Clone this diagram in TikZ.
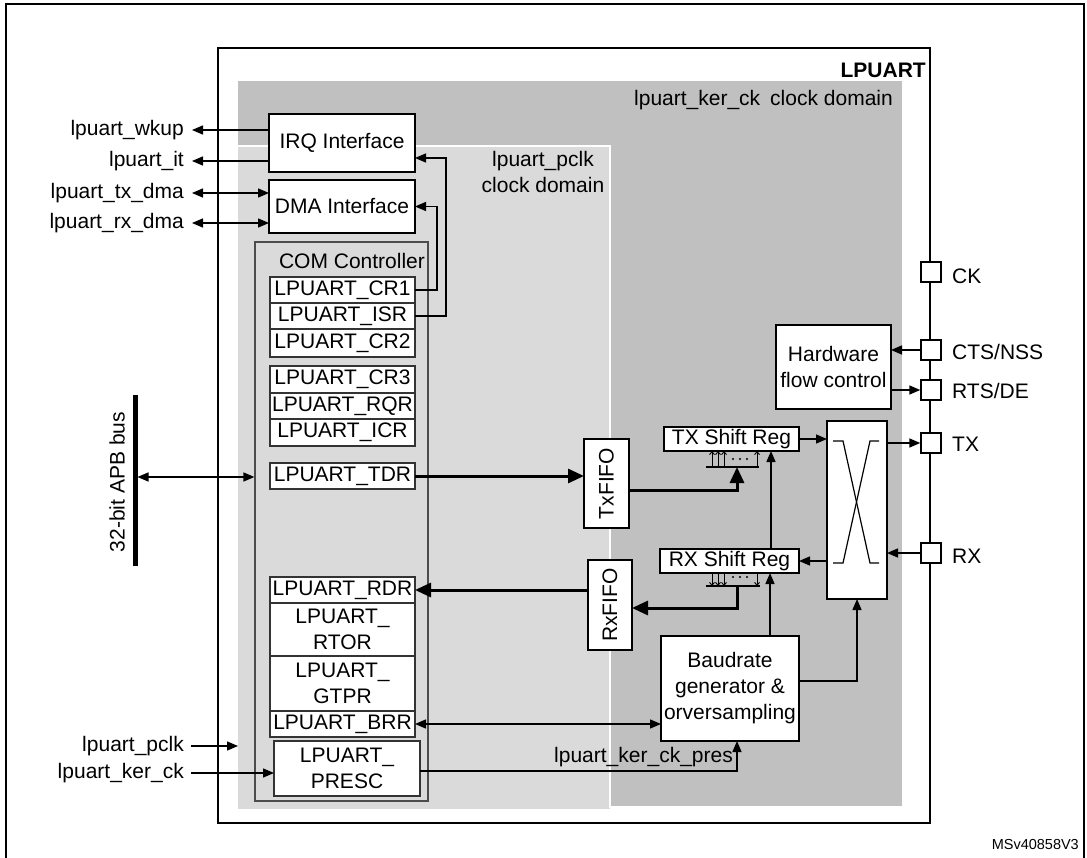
\documentclass[tikz,border=0pt]{standalone}
\usepackage{fontspec}
\setmainfont{Liberation Sans}
\usetikzlibrary{arrows.meta}
\definecolor{kerdom}{RGB}{192,192,192}
\definecolor{pclkdom}{RGB}{218,218,218}
\tikzset{
 blk/.style={draw=black, fill=white, line width=1.4pt, inner sep=0pt, outer sep=0pt, align=center},
 reg/.style={draw=black!80, fill=white, line width=1.1pt, inner sep=0pt, outer sep=0pt, minimum width=145pt, align=center},
 arr/.style={line width=1.4pt, -{Triangle[length=11pt,width=9pt]}},
 darr/.style={line width=1.4pt, {Triangle[length=11pt,width=9pt]}-{Triangle[length=11pt,width=9pt]}},
 tharr/.style={line width=3pt, -{Triangle[length=16pt,width=14pt]}},
 smarr/.style={line width=0.9pt, -{Straight Barb[length=3pt,width=5pt]}},
 pinbox/.style={draw, fill=white, line width=1.4pt, minimum size=20pt, inner sep=0pt},
 txt/.style={inner sep=0pt},
}
\begin{document}
\begin{tikzpicture}[x=1pt,y=-1pt,font=\fontsize{21}{26}\selectfont]
\useasboundingbox (0,0) rectangle (1087,858);
% outer frame
\draw[line width=1.5pt] (6,858) -- (6,4) -- (1084,4) -- (1084,858);
% LPUART block
\draw[line width=2pt, fill=white] (218,48) rectangle (930,823);
\node[txt, anchor=east, font=\fontsize{21}{26}\selectfont\bfseries] (lpuart) at (926,70) {LPUART};
% clock domains
\fill[kerdom] (238,81) rectangle (902,806);
\draw[pclkdom, fill=pclkdom] (238,147) rectangle (609,808);
\draw[white, line width=2pt] (238,146) -- (610,146) -- (610,808);
\node[txt, anchor=east] (kerlbl) at (893,100) {lpuart\_ker\_ck\hspace{10pt}clock domain};
\node[txt, align=center] (pclklbl) at (543,171.5) {lpuart\_pclk\\clock domain};

% interfaces
\node[blk, minimum width=146pt, minimum height=58pt] (irq) at (342,143) {IRQ Interface};
\node[blk, minimum width=146pt, minimum height=53pt] (dma) at (342,206.5) {DMA Interface};

% COM controller
\node[draw=black!70, fill=pclkdom, line width=1.2pt, minimum width=173pt, minimum height=559pt, inner sep=0pt] (com) at (341.5,521.5) {};
\node[txt] (comlbl) at (352,261) {COM Controller};
\node[reg, minimum height=26pt] (cr1) at (342.5,290) {LPUART\_CR1};
\node[reg, minimum height=26pt] (isr) at (342.5,316) {LPUART\_ISR};
\node[reg, minimum height=28pt] (cr2) at (342.5,343) {LPUART\_CR2};
\node[reg, minimum height=27pt] (cr3) at (342.5,379.5) {LPUART\_CR3};
\node[reg, minimum height=26pt] (rqr) at (342.5,406) {LPUART\_RQR};
\node[reg, minimum height=27pt] (icr) at (342.5,432.5) {LPUART\_ICR};
\node[reg, minimum height=26pt] (tdr) at (342.5,476) {LPUART\_TDR};
\node[reg, minimum height=26pt] (rdr) at (342.5,590) {LPUART\_RDR};
\node[reg, minimum height=53pt] (rtor) at (342.5,629.5) {LPUART\_\\RTOR};
\node[reg, minimum height=55pt] (gtpr) at (342.5,683.5) {LPUART\_\\GTPR};
\node[reg, minimum height=26pt] (brr) at (342.5,724) {LPUART\_BRR};
\node[reg, minimum width=146pt, minimum height=55pt] (presc) at (347,768.5) {LPUART\_\\PRESC};

% CR1/ISR to interfaces
\draw[arr] (cr1.east) -- ++(22,0) |- (dma.east);
\draw[arr] (isr.east) -- ++(31,0) |- ([yshift=-15pt]irq.east);

% left signals
\node[txt, anchor=east] (wkup) at (184,130) {lpuart\_wkup};
\node[txt, anchor=east] (it) at (184,161) {lpuart\_it};
\node[txt, anchor=east] (txdma) at (184,193) {lpuart\_tx\_dma};
\node[txt, anchor=east] (rxdma) at (184,223) {lpuart\_rx\_dma};
\draw[arr] (irq.west |- wkup.east) -- ([xshift=8pt]wkup.east);
\draw[arr] (irq.west |- it.east) -- ([xshift=8pt]it.east);
\draw[darr] ([xshift=8pt]txdma.east) -- (dma.west |- txdma.east);
\draw[darr] ([xshift=8pt]rxdma.east) -- (dma.west |- rxdma.east);

% APB bus
\coordinate (busT) at (135,395);
\coordinate (busB) at (135,566);
\coordinate (busP) at (137.5,477);
\draw[line width=5pt] (busT) -- (busB);
\node[txt, rotate=90] (apb) at (117,482) {32-bit APB bus};
\draw[darr] (busP) -- (com.west |- busP);

% clocks bottom left
\node[txt, anchor=east] (pclk) at (184,746) {lpuart\_pclk};
\node[txt, anchor=east] (kerck) at (184,773) {lpuart\_ker\_ck};
\coordinate (pclkE) at (238,746);
\draw[arr] ([xshift=7pt]pclk.east) -- (pclkE);
\draw[arr] ([xshift=7pt]kerck.east) -- (presc.west |- kerck.east);

% FIFOs
\node[blk, minimum width=45pt, minimum height=89pt] (txf) at (606.5,483.5) {};
\node[txt, rotate=90] at (txf) {TxFIFO};
\node[blk, minimum width=44pt, minimum height=90pt] (rxf) at (610,605) {};
\node[txt, rotate=90] at (rxf) {RxFIFO};
\draw[tharr] (tdr.east) -- (txf.west |- tdr.east);
\draw[tharr] (rxf.west |- rdr.east) -- (rdr.east);

% shift registers
\node[blk, minimum width=135pt, minimum height=24pt] (txsr) at (731.5,439) {TX Shift Reg};
\node[blk, minimum width=139pt, minimum height=24pt] (rxsr) at (729.5,561) {RX Shift Reg};

% TX parallel bus
\coordinate (txbarL) at (706,467);
\coordinate (txbarR) at (759,467);
\coordinate (txbarM) at (737,467);
\draw[line width=2.2pt] (txbarL) -- (txbarR);
\foreach \x in {712,718,724,757} \draw[smarr] (\x,467) -- (txsr.south -| \x,0);
\foreach \x in {733,740,747} \fill (\x,459) circle (1.1);
\draw[tharr] (txf.east |- 0,490) -| (txbarM);

% RX parallel bus
\coordinate (rxbarL) at (706,586);
\coordinate (rxbarR) at (760,586);
\coordinate (rxbarM) at (737,586);
\draw[line width=2.2pt] (rxbarL) -- (rxbarR);
\foreach \x in {712,718,724,757} \draw[smarr] (rxsr.south -| \x,0) -- (\x,586);
\foreach \x in {733,740,747} \fill (\x,577) circle (1.1);
\draw[tharr] (rxbarM) |- (rxf.east |- 0,608);

% crossbar
\node[blk, minimum width=60pt, minimum height=178pt] (xbar) at (857,510) {};
\draw[line width=1.2pt] (833,441) -- (843,441) -- (870,563) -- (879,563);
\draw[line width=1.2pt] (879,441) -- (870,441) -- (843,563) -- (833,563);

% baudrate
\node[blk, minimum width=138pt, minimum height=105pt] (baud) at (730,688.5) {Baudrate\\generator \&\\orversampling};

% hardware flow control
\node[blk, minimum width=115pt, minimum height=84pt] (hw) at (833.5,367) {Hardware\\flow control};

% pins
\node[pinbox] (ckp) at (931,272) {};
\node[pinbox] (cts) at (931,350) {};
\node[pinbox] (rts) at (931,390) {};
\node[pinbox] (txp) at (931,443) {};
\node[pinbox] (rxp) at (931,553) {};
\node[txt, anchor=west] at (952,276) {CK};
\node[txt, anchor=west] at (952,352) {CTS/NSS};
\node[txt, anchor=west] at (952,391) {RTS/DE};
\node[txt, anchor=west] at (952,444) {TX};
\node[txt, anchor=west] at (952,556) {RX};

% connections right side
\draw[arr] (cts.west) -- (hw.east |- cts.west);
\draw[arr] (hw.east |- rts.west) -- (rts.west);
\draw[arr] (txsr.east) -- (xbar.west |- txsr.east);
\draw[arr] (xbar.east |- txp.west) -- (txp.west);
\draw[arr] (rxp.west) -- (xbar.east |- rxp.west);
\draw[arr] (xbar.west |- rxsr.east) -- (rxsr.east);
\draw[arr] (rxsr.north -| 771,0) -- (txsr.south -| 771,0);
\draw[arr] (baud.north -| 770,0) -- (rxsr.south -| 770,0);
\draw[arr] (baud.east |- 0,681) -| (xbar.south);
\draw[darr] (brr.east) -- (baud.west |- brr.east);
\draw[arr] ([yshift=-2.5pt]presc.east) -| ([xshift=7pt]baud.south);
\node[txt, anchor=east] (preslbl) at (733,757) {lpuart\_ker\_ck\_pres};

% reference
\node[txt, anchor=east, font=\fontsize{14.5}{15}\selectfont] (ref) at (1079,845) {MSv40858V3};
\end{tikzpicture}
\end{document}
